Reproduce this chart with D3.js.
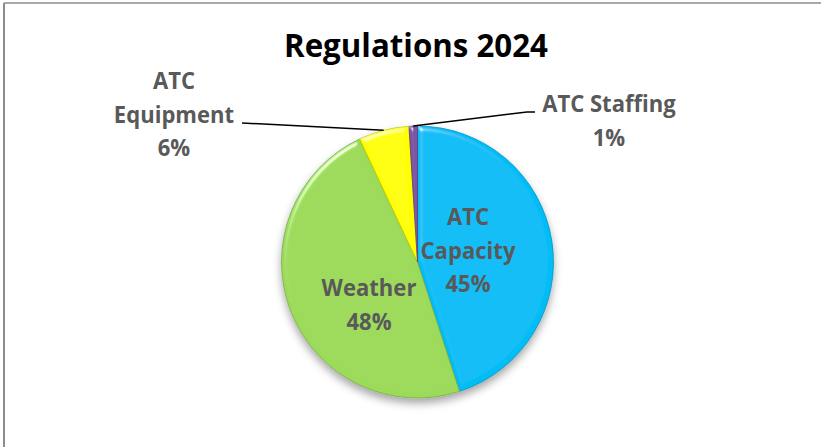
<!DOCTYPE html>
<html>
<head>
<meta charset="utf-8">
<script src="https://cdn.jsdelivr.net/npm/d3@7"></script>
<style>
  html, body { margin: 0; padding: 0; background: #fff; }
  svg { display: block; font-family: "Open Sans", Lato, sans-serif; font-variant-ligatures: none; }
</style>
</head>
<body>
<svg id="chart" width="821" height="447"></svg>
<script>
// Regulations 2024 - share of regulations by cause
const categories = ["ATC Capacity", "Weather", "ATC Equipment", "ATC Staffing"];
const shares = [45, 48, 6, 1];
const colors = ["#00BDF6", "#9CDA5A", "#FFFF00", "#7B55A3"];

const width = 821, height = 447;
const cx = 417.5, cy = 262, radius = 136;

const svg = d3.select("#chart");
const defs = svg.append("defs");

// soft shadow under the pie
const shadow = defs.append("filter").attr("id", "shadow")
    .attr("x", "-20%").attr("y", "-20%").attr("width", "140%").attr("height", "150%");
shadow.append("feDropShadow")
    .attr("dx", 0).attr("dy", 5).attr("stdDeviation", 4)
    .attr("flood-color", "#000").attr("flood-opacity", 0.35);

// bevel on each slice: low light from top-left, flat parts stay untouched
const bevel = defs.append("filter").attr("id", "bevel")
    .attr("x", "-10%").attr("y", "-10%").attr("width", "120%").attr("height", "120%");
bevel.append("feGaussianBlur").attr("in", "SourceAlpha").attr("stdDeviation", 2.5).attr("result", "blur");
bevel.append("feSpecularLighting")
    .attr("in", "blur").attr("surfaceScale", 4).attr("specularConstant", 0.8)
    .attr("specularExponent", 30).attr("lighting-color", "#fff").attr("result", "spec")
  .append("feDistantLight").attr("azimuth", 235).attr("elevation", 30);
bevel.append("feComposite").attr("in", "spec").attr("in2", "SourceAlpha")
    .attr("operator", "in").attr("result", "specOut");
bevel.append("feComposite").attr("in", "SourceGraphic").attr("in2", "specOut")
    .attr("operator", "arithmetic").attr("k1", 0).attr("k2", 1).attr("k3", 0.8).attr("k4", 0);

// chart frame (left and top edges only visible)
svg.append("line").attr("x1", 4).attr("y1", 3).attr("x2", 4).attr("y2", height)
    .attr("stroke", "#8c8c8c").attr("stroke-width", 2);
svg.append("line").attr("x1", 4).attr("y1", 3).attr("x2", width).attr("y2", 3)
    .attr("stroke", "#8c8c8c").attr("stroke-width", 1.5);

// title
svg.append("text")
    .attr("x", 416).attr("y", 57)
    .attr("text-anchor", "middle")
    .attr("font-size", 33).attr("font-weight", "bold").attr("fill", "#000")
    .attr("textLength", 264).attr("lengthAdjust", "spacingAndGlyphs")
    .text("Regulations 2024");

const pie = d3.pie().sort(null).value(d => d)(shares);
const arc = d3.arc().innerRadius(0).outerRadius(radius);

const g = svg.append("g")
    .attr("transform", `translate(${cx},${cy})`)
    .attr("filter", "url(#shadow)");

g.selectAll("path")
    .data(pie)
    .join("path")
    .attr("d", arc)
    .attr("fill", (d, i) => colors[i])
    .attr("stroke", (d, i) => d3.color(colors[i]).darker(0.7))
    .attr("stroke-width", 0.8)
    .attr("filter", "url(#bevel)");

// labels (Calibri-like width: squeeze Open Sans a little)
const labelColor = "#595959";
const labels = [
  { lines: ["ATC", "Capacity"], x: 468, y: 225 },
  { lines: ["Weather"], x: 369, y: 296 },
  { lines: ["ATC", "Equipment"], x: 174, y: 89 },
  { lines: ["ATC Staffing"], x: 609, y: 112 }
];
labels.forEach((l, i) => {
  const rows = l.lines.concat([`${shares[i]}%`]);
  rows.forEach((s, j) => {
    svg.append("text")
        .attr("text-anchor", "middle")
        .attr("font-size", 24).attr("font-weight", "bold")
        .attr("fill", labelColor)
        .attr("transform", `translate(${l.x},${l.y + j * 33.5}) scale(0.92,1)`)
        .text(s);
  });
});

// leader lines for the two small slices, anchored at slice outer edge
function edgePoint(d, frac) {
  const a = d.startAngle + (d.endAngle - d.startAngle) * frac;
  return [cx + radius * Math.sin(a), cy - radius * Math.cos(a)];
}
const eq = edgePoint(pie[2], 0.5);
const st = edgePoint(pie[3], 0.5);
const line = d3.line();
svg.append("path")
    .attr("d", line([[242, 123], eq]))
    .attr("fill", "none").attr("stroke", "#000").attr("stroke-width", 1.5);
svg.append("path")
    .attr("d", line([st, [527, 112], [535, 112]]))
    .attr("fill", "none").attr("stroke", "#000").attr("stroke-width", 1.5);
</script>
</body>
</html>
